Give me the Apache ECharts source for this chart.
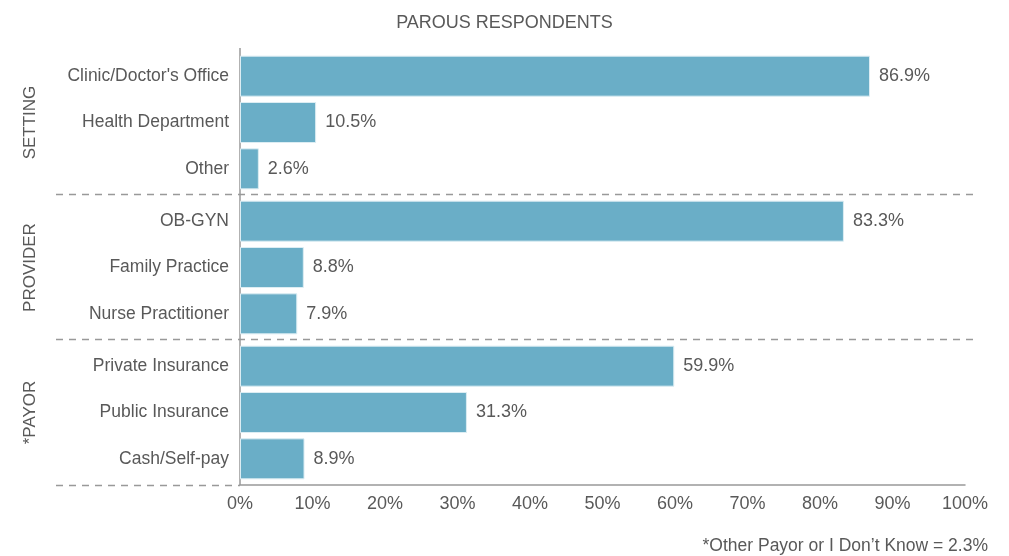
<!DOCTYPE html>
<html>
<head>
<meta charset="utf-8">
<script src="https://cdn.jsdelivr.net/npm/echarts@6/dist/echarts.min.js"></script>
<style>
  html, body { margin: 0; padding: 0; background: #fff; }
  #box { width: 1009px; height: 556px; }
</style>
</head>
<body>
<div id="box"></div>
<script>
// 数据
const groupNames = ['SETTING', 'PROVIDER', '*PAYOR'];
const settingCats = ["Clinic/Doctor's Office", 'Health Department', 'Other'];
const settingVals = [86.9, 10.5, 2.6];
const providerCats = ['OB-GYN', 'Family Practice', 'Nurse Practitioner'];
const providerVals = [83.3, 8.8, 7.9];
const payorCats = ['Private Insurance', 'Public Insurance', 'Cash/Self-pay'];
const payorVals = [59.9, 31.3, 8.9];
const footnote = "*Other Payor or I Don\u2019t Know = 2.3%";

const FONT = '"Liberation Sans Narrow", "Liberation Sans", Arial, sans-serif';
const TXT = '#595959';
const BAR = '#6aaec7';

const cats = [settingCats, providerCats, payorCats];
const vals = [settingVals, providerVals, payorVals];
const tops = [53, 198, 343];
const H = 139;

const myChart = echarts.init(document.getElementById('box'));

const grid = [], xAxis = [], yAxis = [], series = [];
for (let i = 0; i < 3; i++) {
  grid.push({ left: 240, right: 44, top: tops[i], height: H });
  xAxis.push({
    gridIndex: i,
    type: 'value',
    min: 0, max: 100, interval: 10,
    show: i === 2,
    offset: 3,
    axisLine: { show: true, lineStyle: { color: '#999', width: 1.5 } },
    axisTick: { show: false },
    splitLine: { show: false },
    axisLabel: { formatter: '{value}%', color: TXT, fontSize: 18, fontFamily: FONT, margin: 10 }
  });
  yAxis.push({
    gridIndex: i,
    type: 'category',
    inverse: true,
    data: cats[i],
    name: groupNames[i],
    nameLocation: 'middle',
    nameRotate: 90,
    nameGap: 201,
    nameTextStyle: { color: TXT, fontSize: 17, fontFamily: FONT },
    axisLine: { show: false },
    axisTick: { show: false },
    axisLabel: { color: TXT, fontSize: 17.5, fontFamily: FONT, margin: 11 }
  });
  series.push({
    type: 'bar',
    xAxisIndex: i,
    yAxisIndex: i,
    data: vals[i],
    barWidth: 41,
    itemStyle: { color: BAR, borderColor: '#dcedf3', borderWidth: 1 },
    label: {
      show: true, position: 'right', distance: 9,
      formatter: p => p.value.toFixed(1) + '%',
      color: TXT, fontSize: 18, fontFamily: FONT
    }
  });
}

const dash = { stroke: '#999', lineWidth: 1.5, lineDash: [7, 6] };

const option = {
  animation: false,
  title: [
    { text: 'PAROUS RESPONDENTS', left: 'center', top: 9,
      textStyle: { color: TXT, fontSize: 18, fontWeight: 'normal', fontFamily: FONT } },
    { text: footnote, right: 16, bottom: -4,
      textStyle: { color: TXT, fontSize: 17.5, fontWeight: 'normal', fontFamily: FONT } }
  ],
  grid: grid,
  xAxis: xAxis,
  yAxis: yAxis,
  series: series,
  graphic: [
    // 纵轴线
    { type: 'line', shape: { x1: 240, y1: 48, x2: 240, y2: 485 }, style: { stroke: '#999', lineWidth: 1.5 } },
    // 分组虚线
    { type: 'line', shape: { x1: 56, y1: 194.5, x2: 978, y2: 194.5 }, style: dash },
    { type: 'line', shape: { x1: 56, y1: 339.5, x2: 978, y2: 339.5 }, style: dash },
    { type: 'line', shape: { x1: 56, y1: 485.5, x2: 240, y2: 485.5 }, style: dash }
  ]
};

myChart.setOption(option);
</script>
</body>
</html>
